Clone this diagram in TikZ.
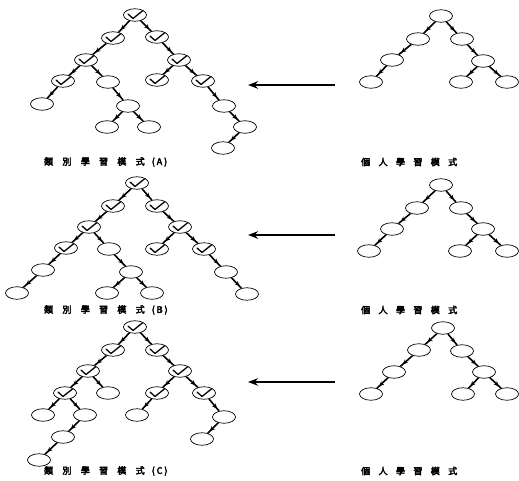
\documentclass[tikz,border=0pt]{standalone}
\usepackage{fontspec}
\newfontfamily\cjk{Noto Sans CJK TC}[FakeBold=4]
\usetikzlibrary{shapes.geometric,arrows.meta,decorations.markings}
\newcommand\lblL[1]{類\hskip9.3pt 別\hskip9.3pt 學\hskip9.3pt 習\hskip9.3pt 模\hskip9.3pt 式\hskip7pt(\hskip2pt #1\hskip2pt)}
\newcommand\lblR{個\hskip8.4pt 人\hskip8.4pt 學\hskip8.4pt 習\hskip8.4pt 模\hskip8.4pt 式}
\tikzset{
  ell/.style={ellipse, draw, line width=0.7pt, minimum width=23pt, minimum height=12.5pt, inner sep=0pt},
  chk/.style={ell, path picture={\draw[line width=1.3pt, line cap=round, line join=round]
    ([xshift=-7pt,yshift=1pt]path picture bounding box.center) --
    ([xshift=-2pt,yshift=-3.5pt]path picture bounding box.center) --
    ([xshift=8pt,yshift=4.5pt]path picture bounding box.center);}},
  tedge/.style={line width=1.6pt, postaction={decorate},
    decoration={markings, mark=at position 0.8 with {\arrow{Stealth[length=5pt,width=4.5pt]}}}},
  bigarrow/.style={line width=2pt, -{Stealth[length=10pt,width=7.5pt]}},
  lbl/.style={font=\cjk\fontsize{9pt}{10pt}\selectfont, anchor=west, inner sep=0pt}
}
\begin{document}
\begin{tikzpicture}[x=1pt,y=-1pt]
\useasboundingbox (0,0) rectangle (519,481);
% ---------- Tree A (left) ----------
\node[chk] (a0) at (135,15) {};
\node[chk] (a1) at (113,38) {};
\node[chk] (a2) at (157,37) {};
\node[chk] (a3) at (86,60) {};
\node[chk] (a4) at (179,60) {};
\node[chk] (a5) at (63,81) {};
\node[ell] (a6) at (108,82) {};
\node[chk] (a7) at (157,80) {};
\node[chk] (a8) at (203,81) {};
\node[ell] (a9) at (42,104) {};
\node[ell] (a10) at (128,106) {};
\node[ell] (a11) at (224,106) {};
\node[ell] (a12) at (107,127) {};
\node[ell] (a13) at (149,127) {};
\node[ell] (a14) at (245,127) {};
\node[ell] (a15) at (223,148) {};
\foreach \u/\v in {a0/a1,a0/a2,a1/a3,a2/a4,a3/a5,a3/a6,a4/a7,a4/a8,a5/a9,a6/a10,a8/a11,a10/a12,a10/a13,a11/a14,a14/a15}
  \draw[tedge] (\u) -- (\v);
% ---------- Tree A (right) ----------
\node[ell] (p0) at (441,16) {};
\node[ell] (p1) at (418,39) {};
\node[ell] (p2) at (462,39) {};
\node[ell] (p3) at (392,60) {};
\node[ell] (p4) at (483,61) {};
\node[ell] (p5) at (371,82) {};
\node[ell] (p6) at (461,82) {};
\node[ell] (p7) at (507,82) {};
\foreach \u/\v in {p0/p1,p0/p2,p1/p3,p2/p4,p3/p5,p4/p6,p4/p7}
  \draw[tedge] (\u) -- (\v);
% ---------- Tree B (left) ----------
\node[chk] (b0) at (137,183) {};
\node[chk] (b1) at (113,206) {};
\node[chk] (b2) at (157,206) {};
\node[chk] (b3) at (89,227) {};
\node[chk] (b4) at (180,227) {};
\node[chk] (b5) at (66,248) {};
\node[ell] (b6) at (109,249) {};
\node[chk] (b7) at (157,249) {};
\node[chk] (b8) at (204,249) {};
\node[ell] (b9) at (43,270) {};
\node[ell] (b10) at (131,272) {};
\node[ell] (b11) at (226,272) {};
\node[ell] (b12) at (17,293) {};
\node[ell] (b13) at (107,293) {};
\node[ell] (b14) at (152,293) {};
\node[ell] (b15) at (247,294) {};
\foreach \u/\v in {b0/b1,b0/b2,b1/b3,b2/b4,b3/b5,b3/b6,b4/b7,b4/b8,b5/b9,b6/b10,b8/b11,b9/b12,b10/b13,b10/b14,b11/b15}
  \draw[tedge] (\u) -- (\v);
% ---------- Tree B (right) ----------
\node[ell] (q0) at (441,185) {};
\node[ell] (q1) at (417,208) {};
\node[ell] (q2) at (461,208) {};
\node[ell] (q3) at (392,229) {};
\node[ell] (q4) at (483,229) {};
\node[ell] (q5) at (369,251) {};
\node[ell] (q6) at (460,251) {};
\node[ell] (q7) at (507,251) {};
\foreach \u/\v in {q0/q1,q0/q2,q1/q3,q2/q4,q3/q5,q4/q6,q4/q7}
  \draw[tedge] (\u) -- (\v);
% ---------- Tree C (left) ----------
\node[chk] (c0) at (135,327) {};
\node[chk] (c1) at (113,350) {};
\node[chk] (c2) at (157,350) {};
\node[chk] (c3) at (88,371) {};
\node[chk] (c4) at (180,371) {};
\node[chk] (c5) at (65,393) {};
\node[ell] (c6) at (108,393) {};
\node[chk] (c7) at (157,393) {};
\node[chk] (c8) at (204,393) {};
\node[ell] (c9) at (43,415) {};
\node[ell] (c10) at (85,415) {};
\node[ell] (c11) at (137,415) {};
\node[ell] (c12) at (224,417) {};
\node[ell] (c13) at (63,437) {};
\node[ell] (c14) at (202,439) {};
\node[ell] (c15) at (39,460) {};
\foreach \u/\v in {c0/c1,c0/c2,c1/c3,c2/c4,c3/c5,c3/c6,c4/c7,c4/c8,c5/c9,c5/c10,c7/c11,c8/c12,c10/c13,c12/c14,c13/c15}
  \draw[tedge] (\u) -- (\v);
% ---------- Tree C (right) ----------
\node[ell] (r0) at (443,328) {};
\node[ell] (r1) at (419,350) {};
\node[ell] (r2) at (462,351) {};
\node[ell] (r3) at (394,372) {};
\node[ell] (r4) at (484,372) {};
\node[ell] (r5) at (371,394) {};
\node[ell] (r6) at (463,394) {};
\node[ell] (r7) at (507,394) {};
\foreach \u/\v in {r0/r1,r0/r2,r1/r3,r2/r4,r3/r5,r4/r6,r4/r7}
  \draw[tedge] (\u) -- (\v);
% ---------- Arrows ----------
\coordinate (s1) at (335,85);  \coordinate (e1) at (248,85);
\coordinate (s2) at (335,235); \coordinate (e2) at (248,235);
\coordinate (s3) at (335,382); \coordinate (e3) at (248,382);
\draw[bigarrow] (s1) -- (e1);
\draw[bigarrow] (s2) -- (e2);
\draw[bigarrow] (s3) -- (e3);
% ---------- Labels ----------
\node[lbl] (la) at (44,162) {\lblL{A}};
\node[lbl] (lb) at (44,310) {\lblL{B}};
\node[lbl] (lc) at (44,471) {\lblL{C}};
\node[lbl] (ra) at (361,162) {\lblR};
\node[lbl] (rb) at (361,310) {\lblR};
\node[lbl] (rc) at (361,471) {\lblR};
\end{tikzpicture}
\end{document}
